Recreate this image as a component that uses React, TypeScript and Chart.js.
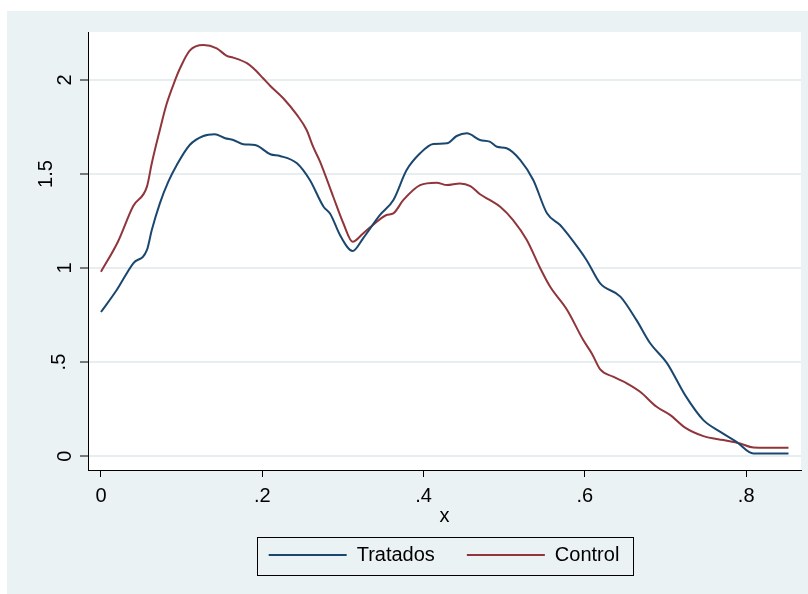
import React, { useEffect, useRef } from 'react';
import { Chart, registerables } from 'chart.js';

Chart.register(...registerables);

// Kernel density estimates
const tratadosX = [0, 0.0195, 0.04, 0.057, 0.063, 0.073, 0.0835, 0.094, 0.11, 0.127, 0.141, 0.154, 0.164, 0.1765, 0.191, 0.21, 0.222, 0.243, 0.259, 0.276, 0.284, 0.2975, 0.312, 0.325, 0.346, 0.3626, 0.379, 0.3957, 0.412, 0.429, 0.441, 0.4536, 0.47, 0.482, 0.491, 0.503, 0.52, 0.536, 0.553, 0.5693, 0.578, 0.602, 0.619, 0.644, 0.664, 0.681, 0.702, 0.7243, 0.747, 0.768, 0.788, 0.809, 0.8525];
const tratadosY = [0.766, 0.883, 1.025, 1.096, 1.202, 1.344, 1.459, 1.548, 1.654, 1.702, 1.711, 1.69, 1.681, 1.658, 1.654, 1.605, 1.596, 1.557, 1.468, 1.326, 1.29, 1.166, 1.09, 1.158, 1.282, 1.362, 1.521, 1.61, 1.66, 1.663, 1.702, 1.716, 1.681, 1.672, 1.645, 1.637, 1.574, 1.468, 1.291, 1.229, 1.184, 1.043, 0.918, 0.848, 0.723, 0.6, 0.493, 0.324, 0.191, 0.129, 0.076, 0.014, 0.014];

const controlX = [0, 0.021, 0.04, 0.057, 0.063, 0.073, 0.081, 0.092, 0.098, 0.11, 0.127, 0.1435, 0.156, 0.164, 0.181, 0.189, 0.201, 0.21, 0.226, 0.243, 0.255, 0.263, 0.2716, 0.288, 0.3005, 0.312, 0.325, 0.342, 0.354, 0.3626, 0.375, 0.3957, 0.416, 0.429, 0.445, 0.458, 0.47, 0.482, 0.495, 0.511, 0.528, 0.5445, 0.557, 0.578, 0.598, 0.6086, 0.619, 0.635, 0.652, 0.6685, 0.689, 0.706, 0.7243, 0.747, 0.772, 0.7925, 0.809, 0.8525];
const controlY = [0.98, 1.14, 1.33, 1.433, 1.557, 1.734, 1.867, 2.0, 2.062, 2.156, 2.186, 2.168, 2.128, 2.119, 2.089, 2.062, 2.009, 1.968, 1.903, 1.814, 1.734, 1.645, 1.566, 1.379, 1.238, 1.14, 1.184, 1.246, 1.282, 1.291, 1.362, 1.441, 1.454, 1.441, 1.45, 1.436, 1.392, 1.362, 1.326, 1.255, 1.149, 1.0, 0.9, 0.777, 0.617, 0.546, 0.461, 0.422, 0.387, 0.342, 0.262, 0.218, 0.151, 0.106, 0.085, 0.067, 0.046, 0.044];

const seriesNames = ['Tratados', 'Control'];
const seriesColors = ['#1a476f', '#90353b'];
const xTicks = [0, 0.2, 0.4, 0.6, 0.8];
const yTicks = [0, 0.5, 1, 1.5, 2];
const xTitle = 'x';

const fmt = (v: number) => (v === 0 ? '0' : String(v).replace(/^0\./, '.').replace(/^-0\./, '-.'));

const FONT = "'Liberation Sans', Arial, Helvetica, sans-serif";

export default function App() {
  const ref = useRef<HTMLCanvasElement>(null);

  useEffect(() => {
    const canvas = ref.current;
    if (!canvas) return;

    const stataPlugin = {
      id: 'stataLook',
      beforeDraw(chart: any) {
        const c = chart.ctx;
        const a = chart.chartArea;
        c.save();
        c.fillStyle = '#ffffff';
        c.fillRect(0, 0, chart.width, chart.height);
        c.fillStyle = '#eaf2f3';
        c.fillRect(7, 11, chart.width - 7, chart.height - 11);
        c.fillStyle = '#ffffff';
        c.fillRect(a.left, a.top, a.right - a.left, a.bottom - a.top);
        c.restore();
      },
      afterDraw(chart: any) {
        const c = chart.ctx;
        const ys = chart.scales.y;
        const a = chart.chartArea;
        c.save();
        c.font = `20px ${FONT}`;
        c.fillStyle = '#000';
        c.textAlign = 'center';
        c.textBaseline = 'alphabetic';
        yTicks.forEach((v) => {
          const label = fmt(v);
          const w = c.measureText(label).width;
          const bx = a.left - 5 - 1.1 * w;
          const py = ys.getPixelForValue(v);
          c.save();
          c.translate(bx, py);
          c.rotate(-Math.PI / 2);
          c.fillText(label, 0, 0);
          c.restore();
        });
        const hb = chart.legend && chart.legend.legendHitBoxes;
        if (hb && hb.length) {
          const l = hb[0].left - 12;
          const last = hb[hb.length - 1];
          const r = last.left + last.width + 13;
          const t = hb[0].top - 8;
          const b = hb[0].top + hb[0].height + 10;
          c.strokeStyle = '#000';
          c.lineWidth = 1;
          c.strokeRect(Math.round(l) + 0.5, Math.round(t) + 0.5, Math.round(r - l), Math.round(b - t));
        }
        c.restore();
      },
    };

    const mk = (xs: number[], ys: number[]) => xs.map((x, i) => ({ x, y: ys[i] }));

    const chart = new Chart(canvas, {
      type: 'line',
      data: {
        datasets: [
          {
            label: seriesNames[0],
            data: mk(tratadosX, tratadosY),
            borderColor: seriesColors[0],
            backgroundColor: seriesColors[0],
            borderWidth: 2,
            pointRadius: 0,
            cubicInterpolationMode: 'monotone',
            fill: false,
          },
          {
            label: seriesNames[1],
            data: mk(controlX, controlY),
            borderColor: seriesColors[1],
            backgroundColor: seriesColors[1],
            borderWidth: 2,
            pointRadius: 0,
            cubicInterpolationMode: 'monotone',
            fill: false,
          },
        ],
      },
      options: {
        animation: false,
        responsive: false,
        maintainAspectRatio: false,
        layout: { padding: { left: 87, right: 7, top: 32, bottom: 19 } },
        plugins: {
          tooltip: { enabled: false },
          legend: {
            position: 'bottom',
            labels: {
              font: { size: 20, family: FONT },
              color: '#000',
              boxWidth: 78,
              boxHeight: 2,
              padding: 32,
              generateLabels: (ch: any) =>
                (Chart.defaults.plugins.legend.labels.generateLabels as any)(ch).map((l: any) => ({
                  ...l,
                  lineWidth: 0,
                  fillStyle: l.strokeStyle,
                })),
            },
          },
        },
        scales: {
          x: {
            type: 'linear',
            min: -0.0161,
            max: 0.868,
            afterBuildTicks: (s: any) => {
              s.ticks = xTicks.map((v) => ({ value: v }));
            },
            afterFit: (s: any) => {
              s.height = 43;
            },
            ticks: {
              callback: (v: any) => fmt(Number(v)),
              font: { size: 20, family: FONT },
              color: '#000',
              padding: 7,
              maxRotation: 0,
              autoSkip: false,
            },
            grid: { drawOnChartArea: false, drawTicks: true, tickLength: 7, tickColor: '#000', tickWidth: 1 },
            border: { display: true, color: '#000', width: 1 },
            title: {
              display: true,
              text: xTitle,
              font: { size: 20, family: FONT },
              color: '#000',
              padding: { top: 0, bottom: -15 },
            },
          },
          y: {
            type: 'linear',
            min: -0.074,
            max: 2.255,
            afterBuildTicks: (s: any) => {
              s.ticks = yTicks.map((v) => ({ value: v }));
            },
            afterFit: (s: any) => {
              s.width = 1;
            },
            ticks: { display: false },
            grid: { color: '#e6eef0', lineWidth: 2, drawTicks: true, tickLength: 8, tickColor: '#000', tickWidth: 1 },
            border: { display: true, color: '#000', width: 1 },
          },
        },
      },
      plugins: [stataPlugin],
    } as any);

    return () => chart.destroy();
  }, []);

  return (
    <div style={{ position: 'fixed', left: 0, top: 0, width: 808, height: 594, background: '#fff' }}>
      <canvas ref={ref} width={808} height={594} style={{ display: 'block', width: 808, height: 594 }} />
    </div>
  );
}
